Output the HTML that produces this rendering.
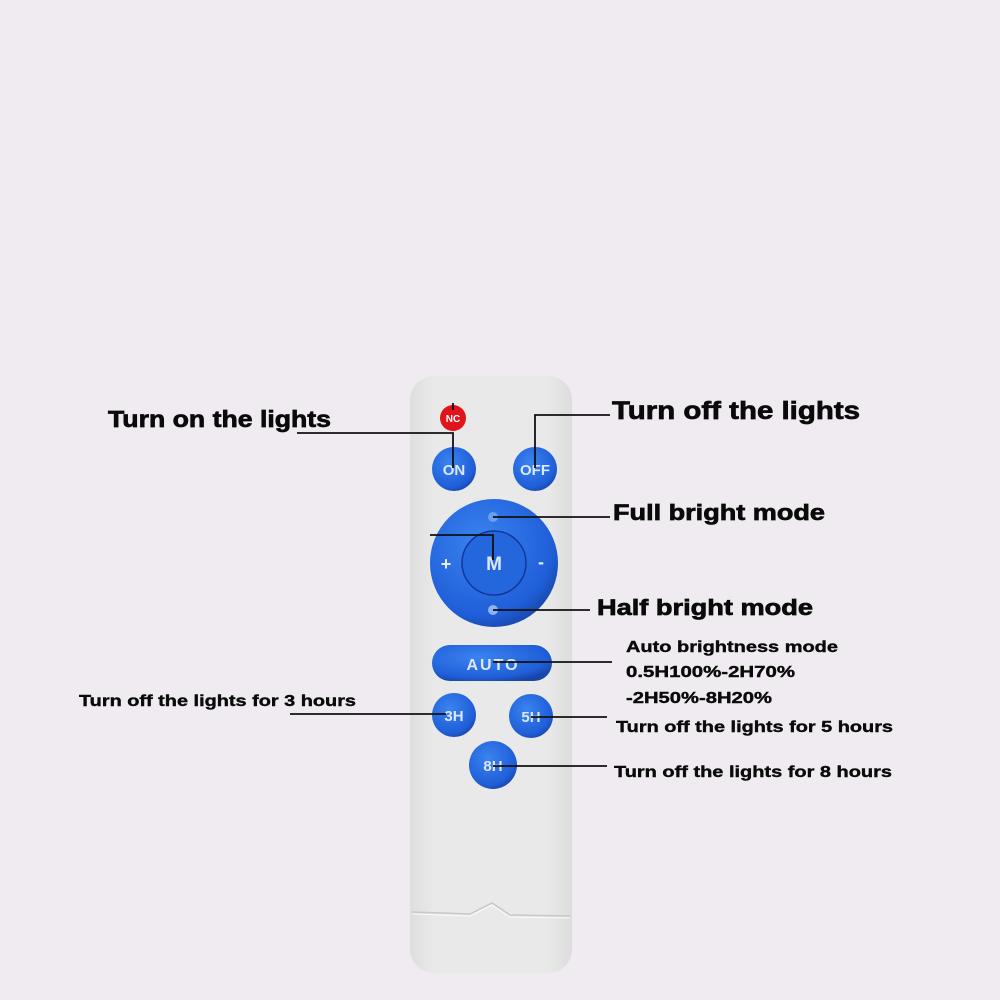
<!DOCTYPE html>
<html><head><meta charset="utf-8"><style>
html,body{margin:0;padding:0;background:#efebf0;}
svg{display:block}
text{font-family:"Liberation Sans",sans-serif;font-weight:bold;}
</style></head><body>
<svg width="1000" height="1000" viewBox="0 0 1000 1000" xmlns="http://www.w3.org/2000/svg">
<defs>
<radialGradient id="bl" cx="40%" cy="35%" r="70%">
<stop offset="0" stop-color="#3b84f0"/><stop offset="0.8" stop-color="#1f5ed8"/><stop offset="1" stop-color="#1846a8"/>
</radialGradient>
<linearGradient id="body" x1="0" x2="1">
<stop offset="0" stop-color="#dedede"/><stop offset="0.15" stop-color="#e9e9e9"/><stop offset="0.85" stop-color="#e9e9e9"/><stop offset="1" stop-color="#dcdcdc"/>
</linearGradient>
</defs>
<rect width="1000" height="1000" fill="#efebf0"/>
<rect x="410" y="376" width="162" height="597" rx="24" fill="url(#body)"/>
<path d="M412 912 L470 914 L492 903 L510 915 L570 916" fill="none" stroke="#c8c8c8" stroke-width="1.5"/>
<path d="M412 914 L470 916 L492 905 L510 917 L570 918" fill="none" stroke="#fafafa" stroke-width="1"/>
<circle cx="453" cy="418" r="13" fill="#e0151b"/>
<text x="453" y="422" font-size="10" fill="#fff" text-anchor="middle">NC</text>
<circle cx="454" cy="469" r="22" fill="url(#bl)"/>
<text x="454" y="475" font-size="15" fill="#dce8ff" text-anchor="middle">ON</text>
<circle cx="535" cy="469" r="22" fill="url(#bl)"/>
<text x="535" y="475" font-size="15" fill="#dce8ff" text-anchor="middle">OFF</text>
<circle cx="494" cy="563" r="64" fill="url(#bl)"/>
<circle cx="494" cy="563" r="32" fill="#2466dc" stroke="#12379a" stroke-width="1.5"/>
<text x="494" y="570" font-size="19" fill="#dce8ff" text-anchor="middle" font-weight="normal">M</text>
<text x="446" y="570" font-size="18" fill="#e8eeff" text-anchor="middle">+</text>
<text x="541" y="568" font-size="18" fill="#e8eeff" text-anchor="middle">-</text>
<circle cx="493" cy="517" r="5" fill="#6a9ef0"/>
<circle cx="493" cy="610" r="5" fill="#8ab4f4"/>
<rect x="432" y="645" width="120" height="36" rx="18" fill="url(#bl)"/>
<text x="493" y="670" font-size="16" fill="#dce8ff" text-anchor="middle" letter-spacing="2">AUTO</text>
<circle cx="454" cy="715" r="22" fill="url(#bl)"/>
<text x="454" y="721" font-size="15" fill="#dce8ff" text-anchor="middle">3H</text>
<circle cx="531" cy="716" r="22" fill="url(#bl)"/>
<text x="531" y="722" font-size="15" fill="#dce8ff" text-anchor="middle">5H</text>
<circle cx="493" cy="765" r="24" fill="url(#bl)"/>
<text x="493" y="771" font-size="15" fill="#dce8ff" text-anchor="middle">8H</text>
<g stroke="#111" stroke-width="1.8" fill="none">
<path d="M297 433 H453 V468"/>
<path d="M453 403 V410"/>
<path d="M610 415 H535 V468"/>
<path d="M493 517 H610"/>
<path d="M430 535 H493 V560"/>
<path d="M493 610 H590"/>
<path d="M493 662 H612"/>
<path d="M290 714 H446"/>
<path d="M531 717 H607"/>
<path d="M493 766 H607"/>
</g>
<g fill="#0a0a0a" stroke="#0a0a0a" stroke-width="0.7">
<text x="108" y="427" font-size="23" textLength="223" lengthAdjust="spacingAndGlyphs">Turn on the lights</text>
<text x="612" y="419" font-size="25" textLength="248" lengthAdjust="spacingAndGlyphs">Turn off the lights</text>
<text x="613" y="520" font-size="22" textLength="212" lengthAdjust="spacingAndGlyphs">Full bright mode</text>
<text x="597" y="615" font-size="22" textLength="216" lengthAdjust="spacingAndGlyphs">Half bright mode</text>
<text x="626" y="652" font-size="16" stroke-width="0.4" textLength="212" lengthAdjust="spacingAndGlyphs">Auto brightness mode</text>
<text x="626" y="677" font-size="16" stroke-width="0.4" textLength="169" lengthAdjust="spacingAndGlyphs">0.5H100%-2H70%</text>
<text x="626" y="703" font-size="16" stroke-width="0.4" textLength="146" lengthAdjust="spacingAndGlyphs">-2H50%-8H20%</text>
<text x="79" y="706" font-size="16" stroke-width="0.4" textLength="277" lengthAdjust="spacingAndGlyphs">Turn off the lights for 3 hours</text>
<text x="616" y="732" font-size="16" stroke-width="0.4" textLength="277" lengthAdjust="spacingAndGlyphs">Turn off the lights for 5 hours</text>
<text x="614" y="777" font-size="16" stroke-width="0.4" textLength="278" lengthAdjust="spacingAndGlyphs">Turn off the lights for 8 hours</text>
</g>
</svg>
</body></html>
